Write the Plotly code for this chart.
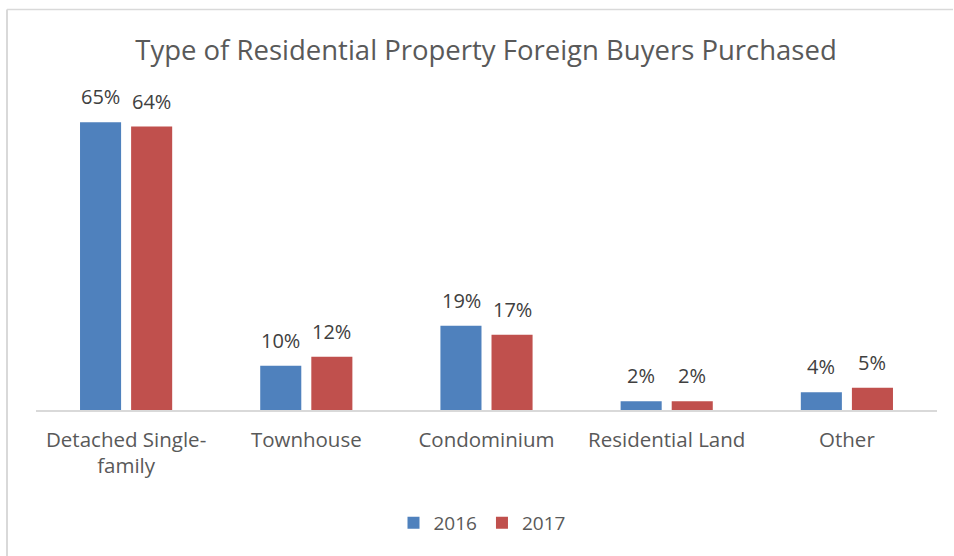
import plotly.graph_objects as go

categories = ["Detached Single-<br>family", "Townhouse", "Condominium", "Residential Land", "Other"]
series_names = ["2016", "2017"]
values_2016 = [65, 10, 19, 2, 4]
values_2017 = [64, 12, 17, 2, 5]
colors = ["#4F81BD", "#C0504D"]

W, H = 954, 556
L, R, T = 36, 17, 100
BASE = 410
B = H - BASE
pw, ph = W - L - R, BASE - T

fig = go.Figure()
annotations = []
slot = 51  # px per bar slot
for i, (name, vals, col) in enumerate(zip(series_names, [values_2016, values_2017], colors)):
    fig.add_trace(go.Bar(
        x=categories, y=vals, name=name,
        marker=dict(color=col, line=dict(width=0)),
    ))
    shift = (-0.5 + i) * slot
    for c, v in zip(categories, vals):
        annotations.append(dict(
            x=c, y=v, xref="x", yref="y", text=f"{v}%", showarrow=False,
            xshift=shift, yshift=10, yanchor="bottom", xanchor="center",
            font=dict(size=20, color="#404040", family="Open Sans"),
        ))

fig.update_layout(
    width=W, height=H,
    margin=dict(l=L, r=R, t=T, b=B),
    paper_bgcolor="white", plot_bgcolor="white",
    barmode="group", bargap=0.433, bargroupgap=0.196,
    title=dict(text="Type of Residential Property Foreign Buyers Purchased",
               x=486 / W, xanchor="center", y=1 - 50 / H, yanchor="middle",
               font=dict(size=27.5, color="#595959", family="Open Sans")),
    font=dict(family="Open Sans", color="#595959"),
    showlegend=True,
    legend=dict(orientation="h", x=(482 - L) / pw, xanchor="center",
                y=(BASE - 523) / ph, yanchor="middle",
                font=dict(size=19, color="#595959"), traceorder="normal"),
    xaxis=dict(showline=True, linecolor="#D9D9D9", linewidth=2, ticks="",
               tickfont=dict(size=20.5, color="#595959"), ticklabelstandoff=10,
               showgrid=False),
    yaxis=dict(range=[0, 70], visible=False, showgrid=False),
    annotations=annotations,
    shapes=[
        dict(type="line", xref="paper", yref="paper", x0=(7 - L) / pw, x1=(W - 1 - L) / pw,
             y0=(BASE - 9.5) / ph, y1=(BASE - 9.5) / ph, line=dict(color="#D9D9D9", width=1.5)),
        dict(type="line", xref="paper", yref="paper", x0=(7 - L) / pw, x1=(7 - L) / pw,
             y0=(BASE - 9.5) / ph, y1=(BASE - H - 5) / ph, line=dict(color="#D9D9D9", width=2)),
    ],
)

fig.write_html(
    "out.html",
    config={"displayModeBar": False},
    post_script="document.body.style.margin='0';document.body.style.overflow='hidden';",
)
